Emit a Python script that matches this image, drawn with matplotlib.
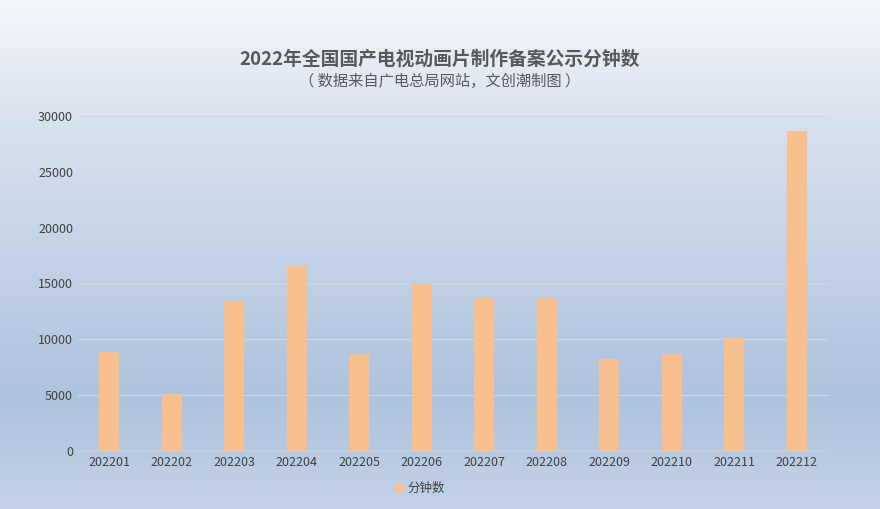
import matplotlib
matplotlib.use("Agg")
import matplotlib.pyplot as plt
import numpy as np
from matplotlib.colors import LinearSegmentedColormap

plt.rcParams['font.family'] = ['Noto Sans CJK SC', 'DejaVu Sans']

months = ['202201','202202','202203','202204','202205','202206','202207','202208','202209','202210','202211','202212']
minutes = [8900, 5100, 13400, 16600, 8700, 15000, 13700, 13700, 8200, 8700, 10150, 28650]

fig = plt.figure(figsize=(8.8, 5.09), dpi=100)
bg = fig.add_axes([0, 0, 1, 1], zorder=-10)
cmap = LinearSegmentedColormap.from_list('bg', [(0, '#f4f6fa'), (0.25, '#d7e1ee'), (0.78, '#aec3de'), (1, '#c3d2e6')])
grad = np.linspace(0, 1, 256).reshape(-1, 1)
bg.imshow(grad, aspect='auto', cmap=cmap, extent=[0, 1, 0, 1], origin='upper')
bg.axis('off')

ax = fig.add_axes([78/880, 58/509, 750/880, 335/509])
ax.patch.set_alpha(0)
x = np.arange(len(months))
ax.bar(x, minutes, width=0.32, color='#f9c08f', label='分钟数', zorder=3)
ax.set_xlim(-0.5, len(months) - 0.5)
ax.set_ylim(0, 30000)
ax.set_yticks(range(0, 30001, 5000))
ax.set_xticks(x)
ax.set_xticklabels(months)
ax.tick_params(length=0, labelsize=9, colors='#404040')
ax.grid(axis='y', color='#d0d8e4', linewidth=0.8, zorder=0)
for s in ['top', 'right', 'left']:
    ax.spines[s].set_visible(False)
ax.spines['bottom'].set_color('#c8d0dc')

fig.text(0.5, 1 - 65/509, '2022年全国国产电视动画片制作备案公示分钟数', ha='center', fontsize=13.5, fontweight='bold', color='#595959')
fig.text(0.5, 1 - 86/509, '（ 数据来自广电总局网站，文创潮制图 ）', ha='center', fontsize=11, color='#595959')
fig.legend(loc='center', bbox_to_anchor=(0.477, 1 - 488/509), frameon=False, fontsize=9, handlelength=0.7, handleheight=0.7, handletextpad=0.3, labelcolor='#404040')

fig.savefig('out.png', dpi=100)
